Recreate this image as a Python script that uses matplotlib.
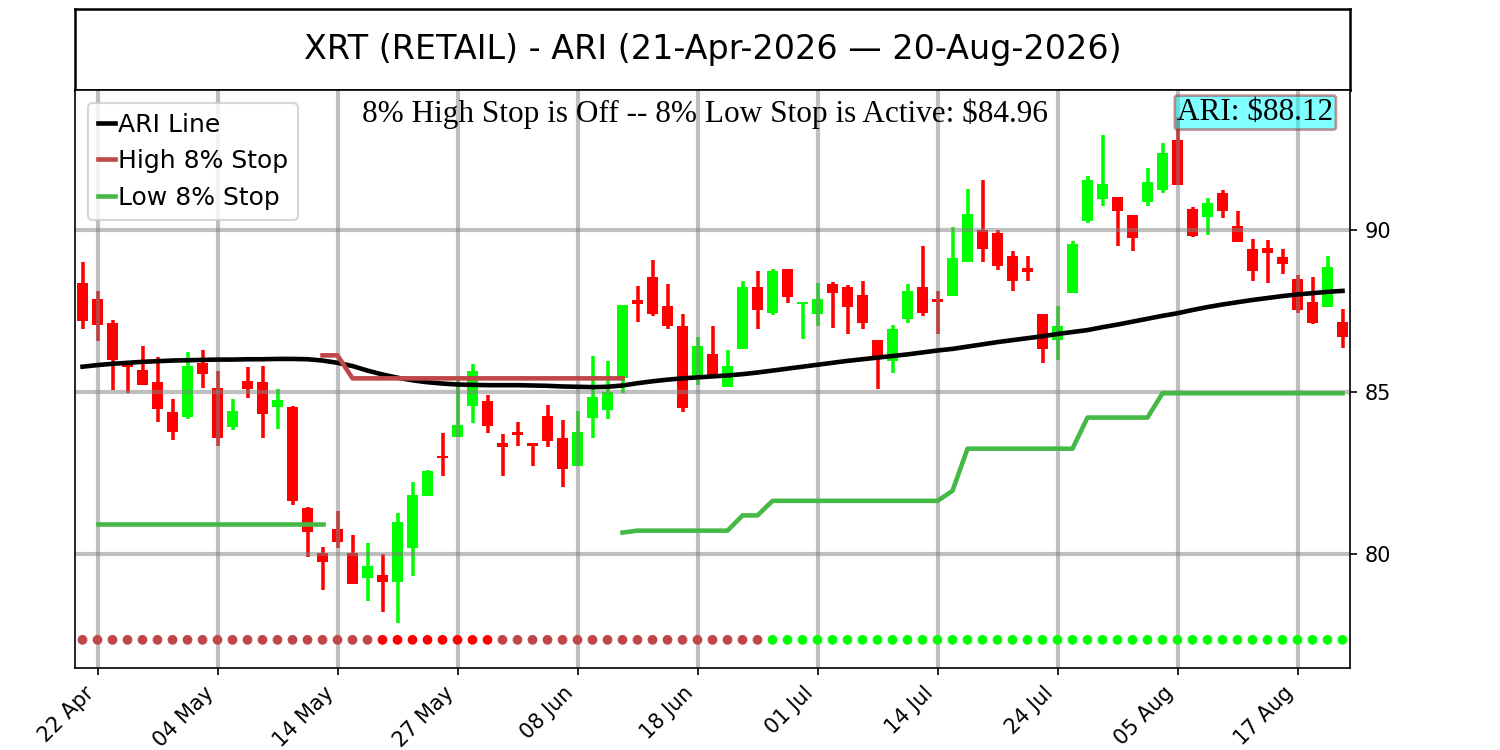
import numpy as np
import pandas as pd
import matplotlib
matplotlib.use("Agg")
import matplotlib.pyplot as plt

# trading days 21-Apr-2026 .. 20-Aug-2026 (US market holidays dropped)
holidays = ["2026-05-25", "2026-06-19", "2026-07-03"]
dates = pd.bdate_range("2026-04-21", "2026-08-20")
dates = dates[~dates.isin(pd.to_datetime(holidays))]

opens = [88.36, 87.87, 87.12, 85.86, 85.68, 85.31, 84.37, 84.24, 85.90, 85.13,
         83.93, 85.34, 85.31, 84.55, 84.55, 81.43, 80.02, 80.76, 80.02, 79.27,
         79.35, 79.13, 80.19, 81.80, 83.00, 83.62, 84.58, 84.72, 83.42, 83.77,
         83.43, 84.26, 83.57, 82.73, 84.21, 84.45, 85.42, 87.84, 88.56, 87.66,
         87.04, 85.50, 86.17, 85.16, 86.32, 88.25, 87.45, 88.80, 87.71, 87.40,
         88.32, 88.23, 87.99, 86.60, 85.96, 87.24, 88.23, 87.87, 87.97, 89.02,
         90.00, 89.90, 89.21, 88.84, 87.41, 86.60, 88.07, 90.29, 90.95, 91.01,
         90.46, 90.87, 91.23, 92.78, 90.64, 90.41, 91.13, 90.12, 89.40, 89.45,
         89.18, 88.48, 87.77, 87.63, 87.15]
highs = [89.01, 88.12, 87.22, 85.89, 86.42, 86.07, 84.78, 86.23, 86.31, 85.65,
         84.78, 85.77, 85.80, 85.09, 84.57, 81.46, 80.23, 81.33, 80.59, 80.33,
         80.00, 81.26, 82.22, 82.59, 83.72, 85.47, 85.86, 84.91, 83.70, 84.06,
         83.43, 84.60, 84.14, 84.41, 86.11, 85.96, 87.69, 88.27, 89.07, 88.33,
         87.41, 86.69, 87.04, 86.30, 88.43, 88.73, 88.80, 88.80, 87.77, 88.35,
         88.39, 88.30, 88.43, 86.60, 87.07, 88.33, 89.49, 88.12, 90.09, 91.27,
         91.54, 90.00, 89.35, 89.20, 87.41, 87.65, 89.66, 91.67, 92.93, 91.01,
         90.46, 91.90, 92.68, 93.50, 90.72, 90.98, 91.23, 90.59, 89.72, 89.69,
         89.40, 88.61, 88.54, 89.20, 87.55]
lows = [86.94, 86.58, 85.06, 84.98, 85.22, 84.08, 83.52, 84.18, 85.13, 83.34,
        83.83, 84.82, 83.59, 83.86, 81.52, 79.90, 78.89, 80.19, 79.06, 78.56,
        78.22, 77.88, 79.33, 81.80, 82.42, 83.62, 84.05, 83.74, 82.42, 83.34,
        82.70, 83.31, 82.08, 82.70, 83.59, 84.17, 84.96, 87.17, 87.33, 86.94,
        84.39, 85.22, 85.50, 85.16, 86.32, 86.94, 87.38, 87.76, 86.64, 87.05,
        86.98, 86.78, 86.94, 85.10, 85.58, 87.14, 87.36, 86.78, 87.97, 89.02,
        89.02, 88.75, 88.13, 88.44, 85.89, 86.00, 88.07, 90.23, 90.75, 89.49,
        89.36, 90.75, 91.15, 91.39, 89.79, 89.85, 90.38, 89.62, 88.44, 88.37,
        88.64, 87.43, 87.09, 87.63, 86.37]
closes = [87.19, 87.08, 85.99, 85.78, 85.23, 84.48, 83.78, 85.80, 85.57, 83.59,
          84.40, 85.10, 84.33, 84.75, 81.65, 80.69, 79.74, 80.36, 79.06, 79.64,
          79.13, 80.98, 81.81, 82.57, 82.95, 83.98, 85.65, 83.96, 83.30, 83.68,
          83.34, 83.50, 82.61, 83.76, 84.85, 85.00, 87.69, 87.71, 87.41, 87.04,
          84.52, 86.42, 85.50, 85.80, 88.23, 87.53, 88.74, 87.92, 87.77, 87.86,
          88.07, 87.61, 87.14, 86.12, 86.94, 88.12, 87.45, 87.77, 89.13, 90.49,
          89.40, 88.90, 88.44, 88.71, 86.34, 87.04, 89.56, 91.54, 91.42, 90.59,
          89.76, 91.49, 92.39, 91.39, 89.82, 90.82, 90.59, 89.62, 88.74, 89.29,
          88.94, 87.53, 87.12, 88.85, 86.71]

ari = [85.78, 85.83, 85.87, 85.90, 85.93, 85.95, 85.97, 85.98, 85.99, 86.00,
       86.00, 86.01, 86.01, 86.02, 86.02, 86.01, 85.97, 85.90, 85.80, 85.66,
       85.54, 85.44, 85.36, 85.30, 85.26, 85.23, 85.22, 85.21, 85.21, 85.21,
       85.20, 85.19, 85.17, 85.16, 85.15, 85.16, 85.20, 85.27, 85.33, 85.38,
       85.42, 85.45, 85.48, 85.51, 85.55, 85.60, 85.66, 85.72, 85.78, 85.84,
       85.90, 85.96, 86.01, 86.06, 86.11, 86.16, 86.22, 86.28, 86.33, 86.40,
       86.47, 86.54, 86.60, 86.66, 86.72, 86.79, 86.85, 86.91, 87.00, 87.08,
       87.17, 87.26, 87.35, 87.43, 87.53, 87.62, 87.70, 87.77, 87.84, 87.90,
       87.96, 88.01, 88.05, 88.09, 88.12]

# stop lines: (first day index, values)
high_stop_start = 16
high_stop = [86.13, 86.13] + [85.42] * 19
low_stop1_start = 1
low_stop1 = [80.93] * 16
low_stop2_start = 36
low_stop2 = ([80.66] + [80.72] * 7 + [81.19] * 2 + [81.64] * 12 + [81.95]
             + [83.25] * 8 + [84.21] * 5 + [84.96] * 13)

# status dots along the bottom: (colour, number of days)
dot_runs = [("#bf4747", 20), ("#ff0000", 8), ("#bf4747", 18), ("#00ff00", 39)]
dot_level = 77.35

title = "XRT (RETAIL) - ARI (21-Apr-2026 \u2014 20-Aug-2026)"
status_text = "8% High Stop is Off -- 8% Low Stop is Active: $84.96"
ari_text = "ARI: $88.12"

fig = plt.figure(figsize=(10, 5), dpi=150)

# title box
tax = fig.add_axes([0.05, 0.88, 0.85, 0.108])
tax.set_xticks([])
tax.set_yticks([])
for s in tax.spines.values():
    s.set_linewidth(1.2)
tax.text(0.5, 0.5, title, ha="center", va="center", fontsize=16, transform=tax.transAxes)

ax = fig.add_axes([0.05, 0.1093, 0.85, 0.7707])
x = np.arange(len(dates))
o = np.array(opens)
c = np.array(closes)
up = c >= o
cols = np.where(up, "#00ff00", "#ff0000")

ax.vlines(x, lows, highs, colors=cols, linewidth=1.7, zorder=1)
body = np.maximum(np.abs(c - o), 0.06)
ax.bar(x, body, bottom=np.minimum(o, c), width=0.72, color=cols, zorder=1)

ax.grid(True, color="gray", alpha=0.5, linewidth=2, zorder=2)

l1, = ax.plot(x, ari, color="black", linewidth=2.2, label="ARI Line", zorder=3)
l2, = ax.plot(np.arange(high_stop_start, high_stop_start + len(high_stop)), high_stop,
              color="#bf4747", linewidth=2.2, label="High 8% Stop", zorder=3)
l3, = ax.plot(np.arange(low_stop1_start, low_stop1_start + len(low_stop1)), low_stop1,
              color="#45b945", linewidth=2.2, label="Low 8% Stop", zorder=3)
ax.plot(np.arange(low_stop2_start, low_stop2_start + len(low_stop2)), low_stop2,
        color="#45b945", linewidth=2.2, zorder=3)

dot_cols = []
for col, n in dot_runs:
    dot_cols += [col] * n
ax.scatter(x, [dot_level] * len(x), c=dot_cols, s=22, zorder=3, linewidths=0)

ax.set_xlim(-0.5, len(x) - 0.5)
ax.set_ylim(76.48, 94.32)
ax.yaxis.tick_right()
ax.set_yticks([80, 85, 90])
tick_pos = x[1::8]
ax.set_xticks(tick_pos)
ax.set_xticklabels([dates[i].strftime("%d %b") for i in tick_pos], rotation=45, ha="right")
ax.tick_params(labelsize=10)

ax.legend(handles=[l1, l2, l3], loc="upper left", fontsize=12, handlelength=0.7,
          handletextpad=0.1, labelspacing=0.5)

ax.text(0.4937, 0.985, status_text, transform=ax.transAxes, ha="center", va="top",
        fontsize=15, family="Liberation Serif", zorder=5)
ax.text(0.987, 0.986, ari_text, transform=ax.transAxes, ha="right", va="top",
        fontsize=15, family="Liberation Serif", zorder=5,
        bbox=dict(boxstyle="round,pad=0.08", facecolor="cyan", edgecolor="brown",
                  linewidth=1.3, alpha=0.5))

fig.savefig("out.png")
